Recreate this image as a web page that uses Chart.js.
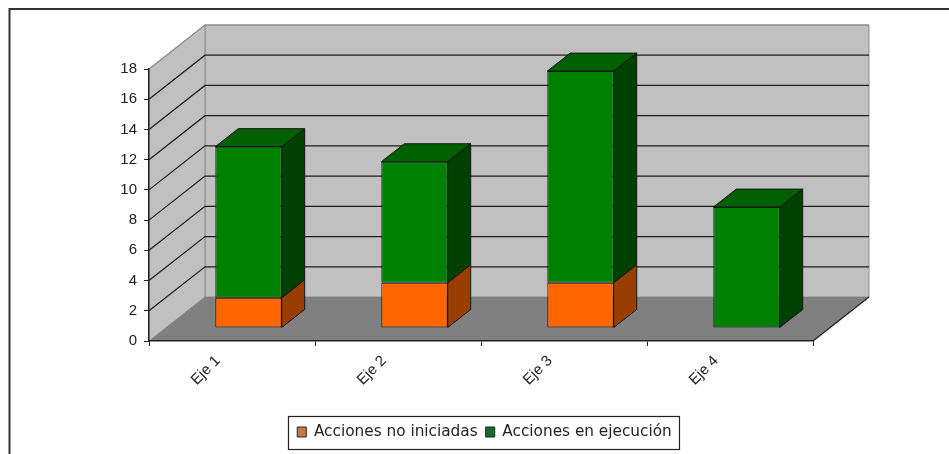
<!DOCTYPE html>
<html>
<head>
<meta charset="utf-8">
<style>html,body{margin:0;padding:0;background:#fff}canvas{display:block}</style>
<script src="https://cdn.jsdelivr.net/npm/chart.js@4"></script>
</head>
<body>
<canvas id="c" width="949" height="454"></canvas>
<script>
const categories = ["Eje 1", "Eje 2", "Eje 3", "Eje 4"];
const seriesNames = ["Acciones no iniciadas", "Acciones en ejecución"];
const noIniciadas = [2, 3, 3, 0];
const enEjecucion = [10, 8, 14, 8];

const FONT = "'Liberation Sans', Arial, sans-serif";
const LEGEND_FONT = "'DejaVu Sans', sans-serif";
const DEPTH = {x: 56, y: -44};
const BAR_SHIFT = {x: 16.5, y: -13};
const BAR_DEPTH = {x: 23, y: -18};
const C = {
  wall: '#c0c0c0', floor: '#808080', line: '#1c1c1c', edge: '#8c8c8c', ink: '#222222',
  orange: '#ff6600', orangeSide: '#993d00', green: '#008000', greenSide: '#004000', greenTop: '#006000'
};

function poly(ctx, pts, fill, stroke) {
  ctx.beginPath();
  pts.forEach((p, i) => i ? ctx.lineTo(p[0], p[1]) : ctx.moveTo(p[0], p[1]));
  ctx.closePath();
  if (fill) { ctx.fillStyle = fill; ctx.fill(); }
  if (stroke) { ctx.strokeStyle = stroke; ctx.lineWidth = 1; ctx.stroke(); }
}

const scene = {
  id: 'scene',
  afterLayout(chart) {
    const lg = chart.legend;
    const shift = 484.5 - (lg.left + lg.right) / 2;
    lg.left += shift;
    lg.right += shift;
    lg.top = 433 - lg.height / 2;
    lg.bottom = lg.top + lg.height;
  },
  beforeDraw(chart) {
    const ctx = chart.ctx, a = chart.chartArea, y = chart.scales.y;
    const l = a.left, r = a.right, t = y.getPixelForValue(18), b = y.getPixelForValue(0);
    const dx = DEPTH.x, dy = DEPTH.y;
    ctx.save();
    // page frame
    ctx.strokeStyle = '#333'; ctx.lineWidth = 2;
    ctx.beginPath(); ctx.moveTo(9.5, 454); ctx.lineTo(9.5, 9); ctx.lineTo(949, 9); ctx.stroke();
    // legend frame
    ctx.strokeStyle = '#222'; ctx.lineWidth = 1.2;
    ctx.strokeRect(288.5, 416.5, 391, 33);
    // walls and floor
    poly(ctx, [[l + dx, t + dy], [r + dx, t + dy], [r + dx, b + dy], [l + dx, b + dy]], C.wall, C.edge);
    poly(ctx, [[l, t], [l + dx, t + dy], [l + dx, b + dy], [l, b]], C.wall, C.edge);
    poly(ctx, [[l, b], [l + dx, b + dy], [r + dx, b + dy], [r, b]], C.floor, null);
    // receding grid lines
    ctx.lineWidth = 1.2;
    y.ticks.forEach(tk => {
      if (tk.value === 0) return;
      const p = y.getPixelForValue(tk.value);
      ctx.strokeStyle = tk.value === 18 ? C.edge : C.line;
      ctx.beginPath();
      ctx.moveTo(l, p); ctx.lineTo(l + dx, p + dy); ctx.lineTo(r + dx, p + dy);
      ctx.stroke();
    });
    // front-right floor edge
    ctx.strokeStyle = C.line;
    ctx.beginPath(); ctx.moveTo(r, b); ctx.lineTo(r + dx, b + dy); ctx.stroke();
    ctx.restore();
  },
  beforeDatasetsDraw(chart) {
    const ctx = chart.ctx;
    ctx.save();
    ctx.translate(BAR_SHIFT.x, BAR_SHIFT.y);
    const sides = [C.orangeSide, C.greenSide];
    const dx = BAR_DEPTH.x, dy = BAR_DEPTH.y;
    chart.data.datasets.forEach((ds, di) => {
      chart.getDatasetMeta(di).data.forEach((el, i) => {
        const right = el.x + el.width / 2, left = el.x - el.width / 2;
        if (ds.data[i] > 0) {
          poly(ctx, [[right, el.base], [right + dx, el.base + dy], [right + dx, el.y + dy], [right, el.y]], sides[di], '#141414');
        }
        if (di === chart.data.datasets.length - 1) {
          poly(ctx, [[left, el.y], [left + dx, el.y + dy], [right + dx, el.y + dy], [right, el.y]], C.greenTop, '#141414');
        }
      });
    });
  },
  afterDatasetsDraw(chart) {
    chart.ctx.restore();
  }
};

new Chart(document.getElementById('c'), {
  type: 'bar',
  data: {
    labels: categories,
    datasets: [
      {label: seriesNames[0], data: noIniciadas, backgroundColor: C.orange, borderColor: '#141414', borderWidth: 1, borderSkipped: false, barPercentage: 0.4, categoryPercentage: 1, clip: false},
      {label: seriesNames[1], data: enEjecucion, backgroundColor: C.green, borderColor: '#141414', borderWidth: 1, borderSkipped: false, barPercentage: 0.4, categoryPercentage: 1, clip: false}
    ]
  },
  plugins: [scene],
  options: {
    responsive: false,
    animation: false,
    layout: {padding: {top: 69, right: 136, left: 0, bottom: 0}},
    plugins: {
      tooltip: {enabled: false},
      legend: {
        position: 'bottom',
        labels: {
          font: {family: LEGEND_FONT, size: 15.3},
          color: C.ink,
          boxWidth: 9,
          boxHeight: 10,
          padding: 8,
          generateLabels(chart) {
            const swatch = ['#c87840', '#12702a'];
            return chart.data.datasets.map((d, i) => ({
              text: d.label, fillStyle: swatch[i], strokeStyle: '#222', lineWidth: 1, datasetIndex: i, fontColor: C.ink
            }));
          }
        }
      }
    },
    scales: {
      x: {
        stacked: true,
        afterFit(s) { s.height = 454 - 341 - s.chart.legend.height; },
        border: {color: '#222', width: 1.5},
        grid: {drawOnChartArea: false, drawTicks: true, tickLength: 5, color: '#222'},
        ticks: {font: {family: FONT, size: 15}, color: C.ink, minRotation: 45, maxRotation: 45, labelOffset: -14, padding: 6}
      },
      y: {
        stacked: true,
        min: 0, max: 18,
        afterFit(s) { s.width = 149; },
        border: {color: '#222', width: 1.5},
        grid: {drawOnChartArea: false, drawTicks: true, tickLength: 5, color: '#222'},
        ticks: {stepSize: 2, font: {family: FONT, size: 15}, color: C.ink, padding: 7}
      }
    }
  }
});
</script>
</body>
</html>
